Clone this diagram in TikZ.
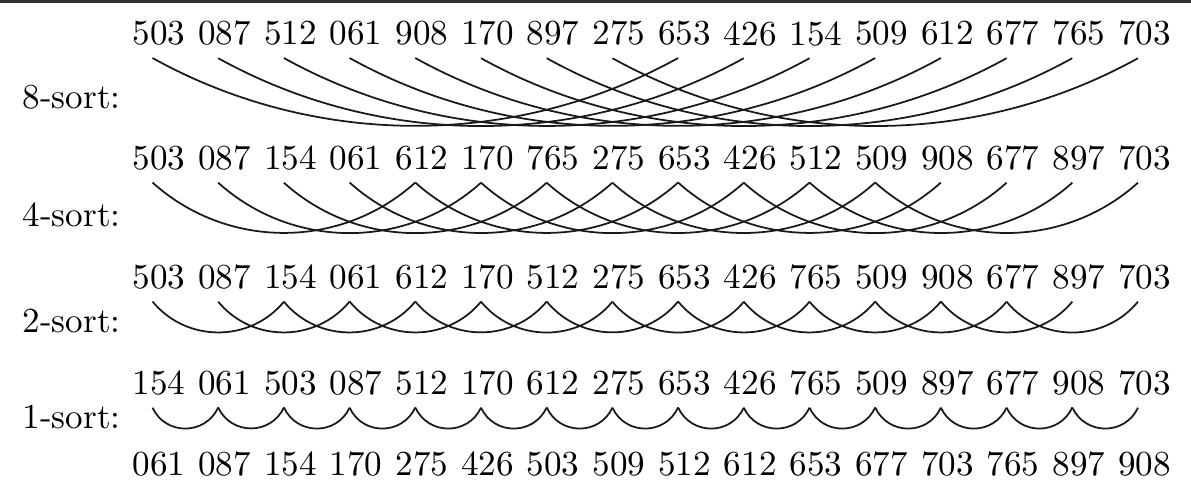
\documentclass[tikz,border=0pt]{standalone}
\usepackage{tikz}
\usetikzlibrary{arrows.meta}

\tikzset{
  keynum/.style={inner sep=0.3333em},
  passlabel/.style={anchor=west, inner sep=0pt},
  pairarc/.style={line width=0.5pt, black!90}
}

\begin{document}
\begin{tikzpicture}[x=1cm, y=1cm]
  \useasboundingbox (0,0) rectangle (11.91,-4.93);
  % Top rule
  \draw[line width=0.9pt, black!80] (0,-0.015) -- (11.91,-0.015);
  % Rows of keys
  \foreach \r/\y/\keys in {
      1/-0.335/{503,087,512,061,908,170,897,275,653,426,154,509,612,677,765,703},
      2/-1.58/{503,087,154,061,612,170,765,275,653,426,512,509,908,677,897,703},
      3/-2.77/{503,087,154,061,612,170,512,275,653,426,765,509,908,677,897,703},
      4/-3.83/{154,061,503,087,512,170,612,275,653,426,765,509,897,677,908,703},
      5/-4.64/{061,087,154,170,275,426,503,509,512,612,653,677,703,765,897,908}} {
    \foreach \k [count=\i] in \keys {
      \node[keynum] (r\r-\i) at ({1.59+0.657*(\i-1)},\y) {\k};
    }
  }
  % Pass labels
  \foreach \h/\y in {8/-0.97, 4/-2.15, 2/-3.21, 1/-4.17} {
    \node[passlabel] (pass\h) at (0.22,\y) {\h-sort:};
  }
  % Compared pairs
  \foreach \r/\h/\ang/\lo in {1/8/29/0.91, 2/4/42/0.98, 3/2/50.5/1.04, 4/1/65/1.2} {
    \pgfmathtruncatemacro\last{16-\h}
    \pgfmathsetmacro\inang{180+\ang}
    \foreach \i in {1,...,\last} {
      \pgfmathtruncatemacro\j{\i+\h}
      \draw[pairarc] ([xshift=-0.65mm]r\r-\i.south)
        to[out=-\ang, in=\inang, looseness=\lo] ([xshift=-0.65mm]r\r-\j.south);
    }
  }
\end{tikzpicture}
\end{document}
